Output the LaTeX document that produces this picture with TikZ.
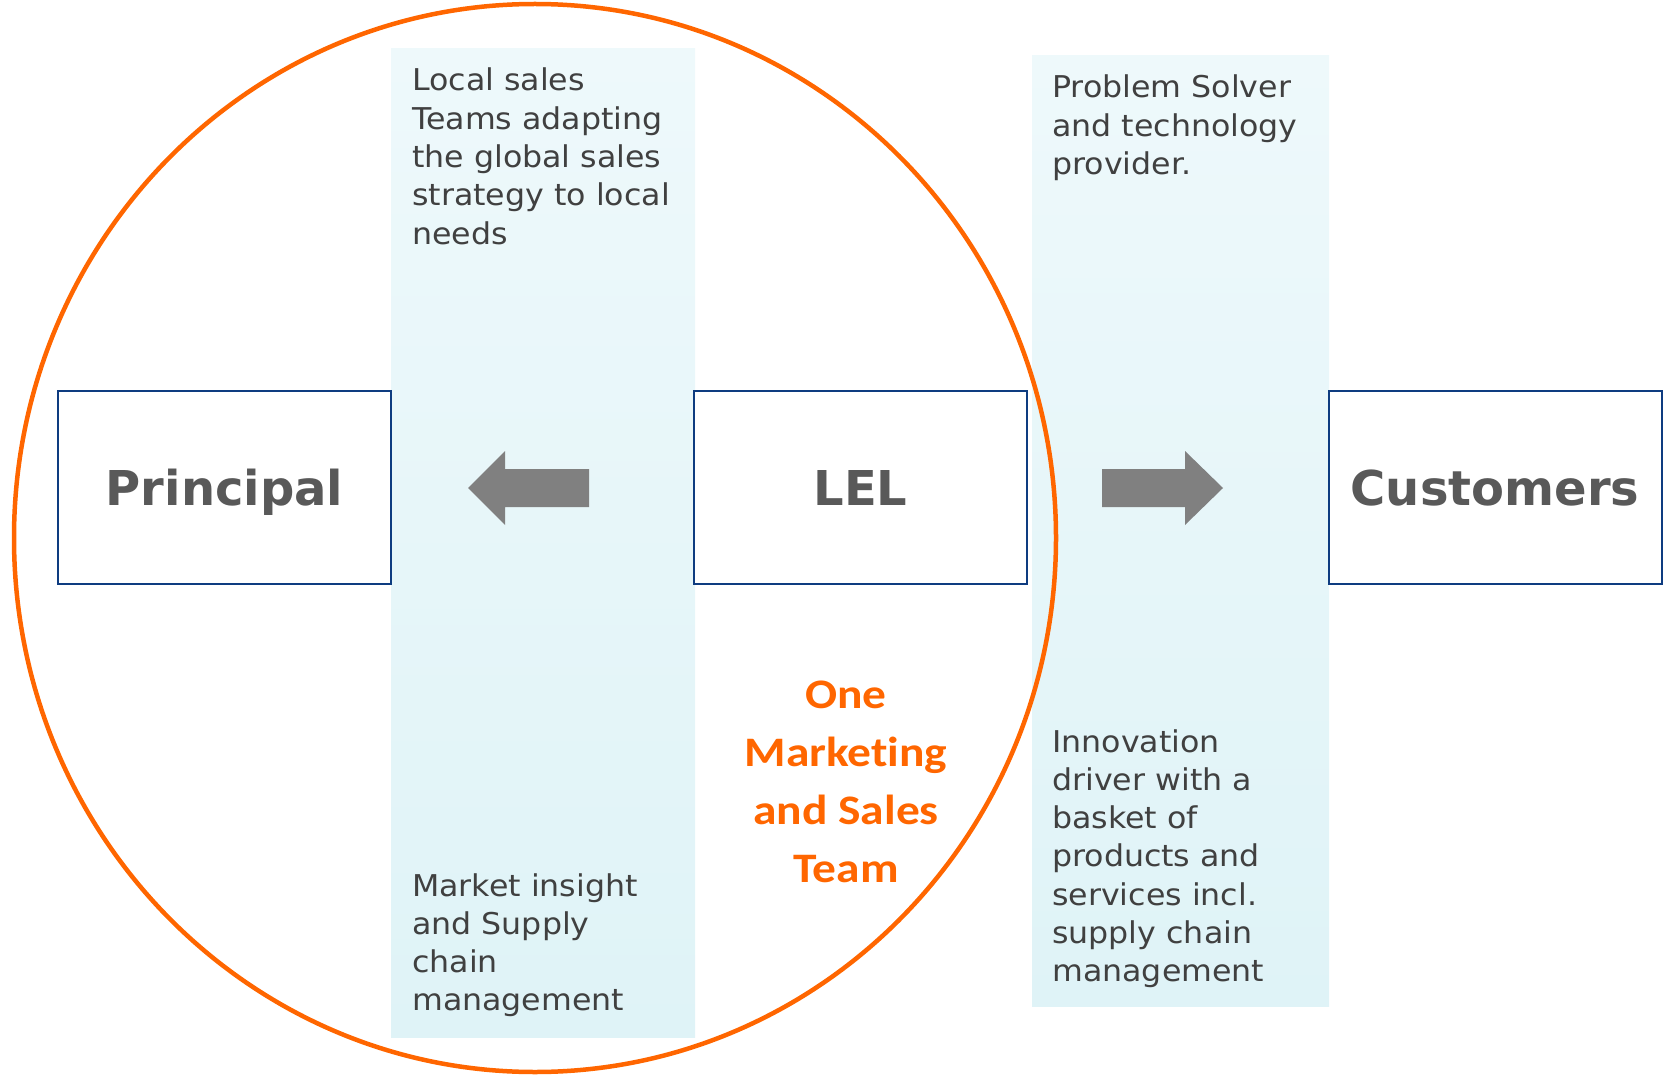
\documentclass[tikz,border=0pt]{standalone}
\usepackage{fontspec}
\setmainfont[FakeStretch=1.055]{DejaVu Sans}
\newfontfamily\labelfont{DejaVu Sans}
\newfontfamily\orangefont[FakeStretch=1.13,Ligatures=NoCommon]{Carlito}
\definecolor{bandtop}{HTML}{EEF9FB}
\definecolor{bandbot}{HTML}{DFF3F7}
\definecolor{boxblue}{HTML}{0E3C80}
\definecolor{labelgray}{HTML}{595959}
\definecolor{bodygray}{HTML}{404040}
\definecolor{lelorange}{HTML}{FF6600}
\definecolor{arrowgray}{HTML}{808080}
\tikzset{
  band/.style={top color=bandtop, bottom color=bandbot, draw=none},
  labelbox/.style={draw=boxblue, line width=2pt, fill=white, minimum width=333pt, minimum height=193pt,
    inner sep=0pt, text=labelgray, font=\labelfont\bfseries\fontsize{48}{56}\selectfont, text height=35pt, text depth=0pt},
  bodytext/.style={anchor=base west, inner sep=0pt, text=bodygray, font=\fontsize{30}{38.3}\selectfont},
  teamtext/.style={anchor=base, inner sep=0pt, text=lelorange, font=\orangefont\bfseries\fontsize{42}{58}\selectfont},
  blockarrow/.style={fill=arrowgray, draw=none},
  ring/.style={draw=lelorange, line width=4.5pt}
}
\begin{document}
\begin{tikzpicture}[x=1pt,y=-1pt]
\useasboundingbox (0,0) rectangle (1663,1075);
% bands
\shade[band] (391,49) rectangle (695,1037);
\shade[band] (1032,56) rectangle (1329,1006);
% boxes
\node[labelbox] (principal) at (224.5,487.5) {Principal};
\node[labelbox] (lel) at (860.5,487.5) {LEL};
\node[labelbox] (customers) at (1495,487.5) {Customers};
% ring
\draw[ring] (535,538) ellipse [x radius=521, y radius=534];
% arrows
\fill[blockarrow] (468,488) -- (505,451) -- (505,469) -- (589,469) -- (589,507) -- (505,507) -- (505,525) -- cycle;
\fill[blockarrow] (1223,488) -- (1185,451) -- (1185,469) -- (1102,469) -- (1102,507) -- (1185,507) -- (1185,525) -- cycle;
% texts
\node[bodytext] (localsales) at (412,91) {\vtop{\hbox{Local sales}\hbox{Teams adapting}\hbox{the global sales}\hbox{strategy to local}\hbox{needs}}};
\node[bodytext] (market) at (412,896) {\vtop{\hbox{Market insight}\hbox{and Supply}\hbox{chain}\hbox{management}}};
\node[bodytext] (problem) at (1052,98) {\vtop{\hbox{Problem Solver}\hbox{and technology}\hbox{provider.}}};
\node[bodytext] (innovation) at (1052,752) {\vtop{\hbox{Innovation}\hbox{driver with a}\hbox{basket of}\hbox{products and}\hbox{services incl.}\hbox{supply chain}\hbox{management}}};
\node[teamtext] (team) at (846,708) {\vtop{\halign{\hfil#\hfil\cr One\cr Marketing\cr and Sales\cr Team\cr}}};
\end{tikzpicture}
\end{document}
